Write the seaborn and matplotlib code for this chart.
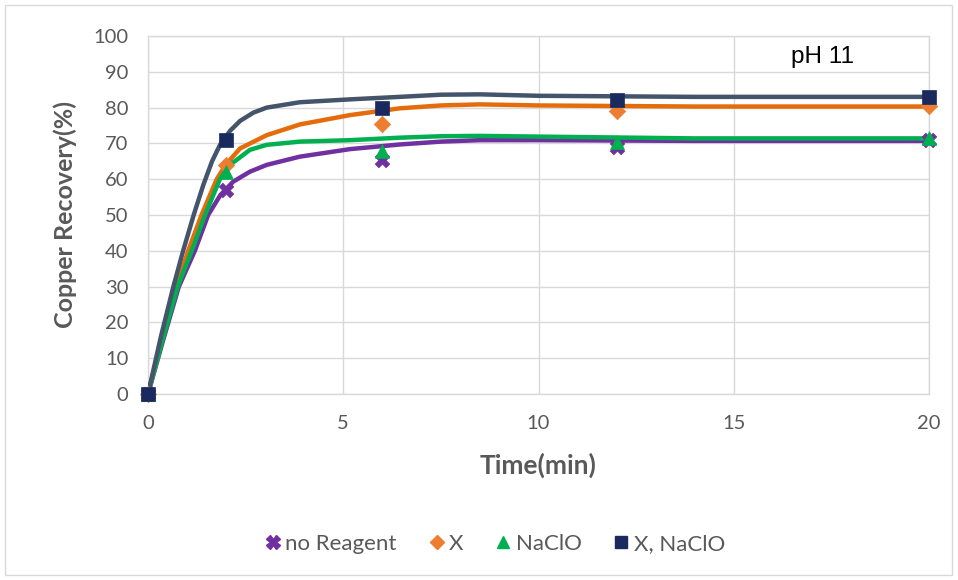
import numpy as np
import pandas as pd
import matplotlib
matplotlib.use("Agg")
import matplotlib.pyplot as plt
import seaborn as sns
from matplotlib.patches import Rectangle
from matplotlib.lines import Line2D

# ---- measured data points ----
series = ["no Reagent", "X", "NaClO", "X, NaClO"]
time_pts = [0, 2, 6, 12, 20]
no_reagent = [0, 57, 65.5, 69, 71]
x_reagent = [0, 64, 75.5, 79, 80.5]
naclo = [0, 62, 68, 70.5, 71.5]
x_naclo = [0, 71, 80, 82, 83]

# ---- fitted curves ----
curve_t_noreagent = [0, 0.4, 0.79, 1.20, 1.54, 1.85, 2.18, 2.61, 3.04, 3.89, 5.17, 6.45, 7.5, 8.5, 10, 14, 20]
curve_v_noreagent = [0, 15.5, 30, 40, 50, 55.5, 59.3, 62.1, 64.0, 66.3, 68.4, 69.7, 70.5, 70.9, 70.9, 70.7, 70.7]
curve_t_x = [0, 0.37, 0.73, 1.03, 1.37, 1.76, 2.0, 2.36, 3.04, 3.89, 5.17, 6.45, 7.5, 8.5, 10, 14, 20]
curve_v_x = [0, 16, 30, 40, 50, 60, 64.2, 68.6, 72.3, 75.3, 77.9, 79.8, 80.6, 80.9, 80.6, 80.3, 80.3]
curve_t_naclo = [0, 0.38, 0.76, 1.12, 1.46, 1.84, 2.1, 2.61, 3.04, 3.89, 5.17, 6.45, 7.5, 8.5, 10, 14, 20]
curve_v_naclo = [0, 15.5, 30, 40, 50, 60, 64.0, 68.2, 69.6, 70.5, 70.9, 71.6, 72.0, 72.1, 71.9, 71.4, 71.4]
curve_t_xnaclo = [0, 0.33, 0.65, 0.9, 1.17, 1.42, 1.64, 1.84, 2.1, 2.36, 2.7, 3.04, 3.89, 5.17, 6.45, 7.5, 8.5, 10, 14, 20]
curve_v_xnaclo = [0, 16, 30, 40, 50, 58.5, 65, 69.5, 73.5, 76.3, 78.6, 80, 81.5, 82.3, 83.0, 83.6, 83.7, 83.3, 83.0, 83.0]

x_ticks = [0, 5, 10, 15, 20]
y_ticks = [0, 10, 20, 30, 40, 50, 60, 70, 80, 90, 100]

pts = pd.DataFrame({
    "Time": time_pts * 4,
    "Recovery": no_reagent + x_reagent + naclo + x_naclo,
    "Series": sum([[s] * len(time_pts) for s in series], []),
})
curves = pd.concat([
    pd.DataFrame({"Time": curve_t_noreagent, "Recovery": curve_v_noreagent, "Series": series[0]}),
    pd.DataFrame({"Time": curve_t_x, "Recovery": curve_v_x, "Series": series[1]}),
    pd.DataFrame({"Time": curve_t_naclo, "Recovery": curve_v_naclo, "Series": series[2]}),
    pd.DataFrame({"Time": curve_t_xnaclo, "Recovery": curve_v_xnaclo, "Series": series[3]}),
])

line_colors = {"no Reagent": "#7030A0", "X": "#E46C0A", "NaClO": "#00B050", "X, NaClO": "#44546A"}
mark_colors = {"no Reagent": "#7030A0", "X": "#ED7D31", "NaClO": "#00B050", "X, NaClO": "#1A2A5E"}
mark_styles = {"no Reagent": "X", "X": "D", "NaClO": "^", "X, NaClO": "s"}
mark_sizes = {"no Reagent": 110, "X": 70, "NaClO": 100, "X, NaClO": 110}

sns.set_theme(style="white")
plt.rcParams["font.family"] = ["Lato", "DejaVu Sans"]

fig = plt.figure(figsize=(9.58, 5.80), dpi=100)
ax = fig.add_axes([148 / 958, 1 - 394 / 580, (929 - 148) / 958, (394 - 36) / 580])

sns.lineplot(data=curves, x="Time", y="Recovery", hue="Series", palette=line_colors,
             sort=False, estimator=None, linewidth=3.2, legend=False, ax=ax, zorder=3)
for ln in ax.lines:
    ln.set_solid_joinstyle("round")
    ln.set_solid_capstyle("round")
for s in series:
    d = pts[pts["Series"] == s]
    sns.scatterplot(data=d, x="Time", y="Recovery", color=mark_colors[s], marker=mark_styles[s],
                    s=mark_sizes[s], linewidth=0.5, edgecolor=mark_colors[s], ax=ax, zorder=4,
                    legend=False)

ax.set_xlim(0, 20)
ax.set_ylim(0, 100)
ax.set_xticks(x_ticks)
ax.set_yticks(y_ticks)
ax.grid(True, color="#D9D9D9", linewidth=1.0)
ax.set_axisbelow(True)
for sp in ax.spines.values():
    sp.set_color("#D9D9D9")
    sp.set_linewidth(1.0)
ax.tick_params(axis="both", length=0, labelsize=14.5, colors="#595959")
ax.tick_params(axis="x", pad=15)
ax.tick_params(axis="y", pad=14)
ax.set_xlabel("Time(min)", fontsize=19, fontweight="bold", color="#595959", labelpad=15)
ax.set_ylabel("Copper Recovery(%)", fontsize=18, fontweight="bold", color="#595959", labelpad=12)
for lbl in ax.get_xticklabels() + ax.get_yticklabels():
    lbl.set_color("#595959")
for c in ax.collections:
    c.set_clip_on(False)

ax.text(0.864, 0.941, "pH 11", transform=ax.transAxes, fontsize=17.5, color="black",
        family=["Liberation Sans", "DejaVu Sans"], ha="center", va="center")

handles = [Line2D([], [], linestyle="none", marker=mark_styles[s], color=mark_colors[s],
                  markersize={"no Reagent": 10, "X": 7, "NaClO": 9, "X, NaClO": 9}[s]) for s in series]
fig.legend(handles, series, loc="center", bbox_to_anchor=(0.515, 1 - 544 / 580), ncol=4,
           frameon=False, fontsize=16, handletextpad=0.05, columnspacing=1.3,
           labelcolor="#595959", handlelength=1.0)

fig.patches.append(Rectangle((5 / 958, 5 / 580), 947 / 958, 570 / 580, transform=fig.transFigure,
                             fill=False, edgecolor="#D9D9D9", linewidth=1.0))

fig.savefig("out.png", dpi=100)
